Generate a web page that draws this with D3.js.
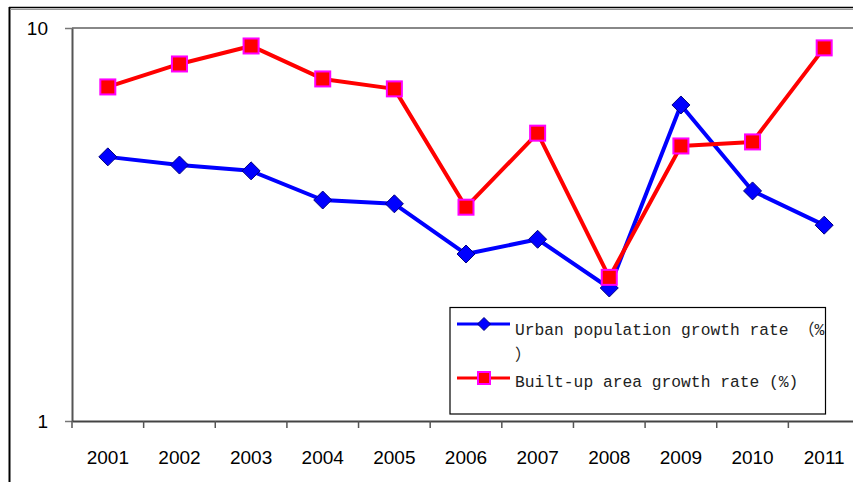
<!DOCTYPE html>
<html>
<head>
<meta charset="utf-8">
<script src="https://cdn.jsdelivr.net/npm/d3@7"></script>
<style>
html,body{margin:0;padding:0;background:#fff;}
svg{display:block;}
</style>
</head>
<body>
<svg id="chart" width="853" height="482"></svg>
<script>
const years = ["2001","2002","2003","2004","2005","2006","2007","2008","2009","2010","2011"];
const urbanPop = [4.70, 4.48, 4.33, 3.65, 3.57, 2.66, 2.90, 2.18, 6.37, 3.85, 3.15];
const builtUp = [7.08, 8.10, 9.00, 7.42, 7.00, 3.50, 5.40, 2.32, 5.01, 5.13, 8.90];
const yTicks = [1, 10];
const seriesNames = ["Urban population growth rate \uFF08%", "Built-up area growth rate (%)"];

const svg = d3.select("#chart");
const W = 853, H = 482;
const L = 72, R = 860, T = 28, B = 421;

// outer frame
svg.append("line").attr("x1",9.5).attr("x2",9.5).attr("y1",7).attr("y2",H).attr("stroke","#000").attr("stroke-width",2);
svg.append("line").attr("x1",9).attr("x2",W).attr("y1",7.5).attr("y2",7.5).attr("stroke","#000").attr("stroke-width",1.5);
svg.append("line").attr("x1",10).attr("x2",W).attr("y1",9.5).attr("y2",9.5).attr("stroke","#999").attr("stroke-width",1);

const x = d3.scaleBand().domain(years).range([L, R]);
const y = d3.scaleLog().domain([1, 10]).range([B, T]);

// plot top border
svg.append("line").attr("x1",L).attr("x2",W).attr("y1",T).attr("y2",T).attr("stroke","#888").attr("stroke-width",2);

// y axis
const yAxis = d3.axisLeft(y).tickValues(yTicks).tickFormat(d3.format("d")).tickSizeOuter(0).tickSizeInner(7).tickPadding(17);
const gy = svg.append("g").attr("transform",`translate(${L},0)`).call(yAxis);
gy.select(".domain").attr("stroke","#555").attr("stroke-width",2);
gy.selectAll(".tick line").attr("stroke","#777").attr("stroke-width",1.5);
gy.selectAll(".tick text").attr("font-family","'Liberation Sans', Arial, sans-serif").attr("font-size",19).attr("fill","#000");

// x axis
const xAxis = d3.axisBottom(x).tickSizeOuter(0).tickSize(0).tickPadding(30);
const gx = svg.append("g").attr("transform",`translate(0,${B})`).call(xAxis);
gx.select(".domain").attr("stroke","#444").attr("stroke-width",2);
gx.selectAll(".tick text").attr("font-family","'Liberation Sans', Arial, sans-serif").attr("font-size",19).attr("fill","#000");
// category boundary ticks
const bounds = years.map(d => x(d)).concat([x(years[years.length-1]) + x.bandwidth()]);
svg.append("g").selectAll("line").data(bounds).join("line")
  .attr("x1",d=>d).attr("x2",d=>d).attr("y1",B).attr("y2",B+7)
  .attr("stroke","#555").attr("stroke-width",1.5);

const cx = d => x(d) + x.bandwidth()/2;
const line = d3.line().x(d=>cx(d.year)).y(d=>y(d.v));
const blueData = years.map((yr,i)=>({year:yr, v:urbanPop[i]}));
const redData = years.map((yr,i)=>({year:yr, v:builtUp[i]}));

// blue series
svg.append("path").datum(blueData).attr("d",line).attr("fill","none").attr("stroke","#0000FF").attr("stroke-width",4).attr("stroke-linejoin","round");
const diamond = (px,py,s) => `M${px},${py-s}L${px+s},${py}L${px},${py+s}L${px-s},${py}Z`;
svg.append("g").selectAll("path").data(blueData).join("path")
  .attr("d",d=>diamond(cx(d.year), y(d.v), 9))
  .attr("fill","#0000FF").attr("stroke","#000080").attr("stroke-width",1);

// red series
svg.append("path").datum(redData).attr("d",line).attr("fill","none").attr("stroke","#FF0000").attr("stroke-width",4).attr("stroke-linejoin","round");
svg.append("g").selectAll("rect").data(redData).join("rect")
  .attr("x",d=>cx(d.year)-7.5).attr("y",d=>y(d.v)-7.5).attr("width",15).attr("height",15)
  .attr("fill","#FF0000").attr("stroke","#FF00FF").attr("stroke-width",2);

// legend
const lg = svg.append("g");
lg.append("rect").attr("x",450).attr("y",307.5).attr("width",375.5).attr("height",106.5)
  .attr("fill","#fff").attr("stroke","#000").attr("stroke-width",1.2);
const legFont = "'Liberation Mono', 'Noto Sans CJK SC', monospace";
// entry 1
lg.append("line").attr("x1",457).attr("x2",510).attr("y1",324).attr("y2",324).attr("stroke","#0000FF").attr("stroke-width",3);
lg.append("path").attr("d",diamond(484,324,6.5)).attr("fill","#0000FF").attr("stroke","#000080").attr("stroke-width",1);
lg.append("text").attr("x",515).attr("y",335).attr("font-family",legFont).attr("font-size",16.3).attr("fill","#222").text(seriesNames[0]);
lg.append("text").attr("x",515).attr("y",360).attr("font-family",legFont).attr("font-size",16.3).attr("fill","#222").text("\uFF09");
// entry 2
lg.append("line").attr("x1",457).attr("x2",510).attr("y1",378).attr("y2",378).attr("stroke","#FF0000").attr("stroke-width",3);
lg.append("rect").attr("x",478).attr("y",372).attr("width",12).attr("height",12).attr("fill","#FF0000").attr("stroke","#FF00FF").attr("stroke-width",2);
lg.append("text").attr("x",515).attr("y",387).attr("font-family",legFont).attr("font-size",16.3).attr("fill","#222").text(seriesNames[1]);
</script>
</body>
</html>
